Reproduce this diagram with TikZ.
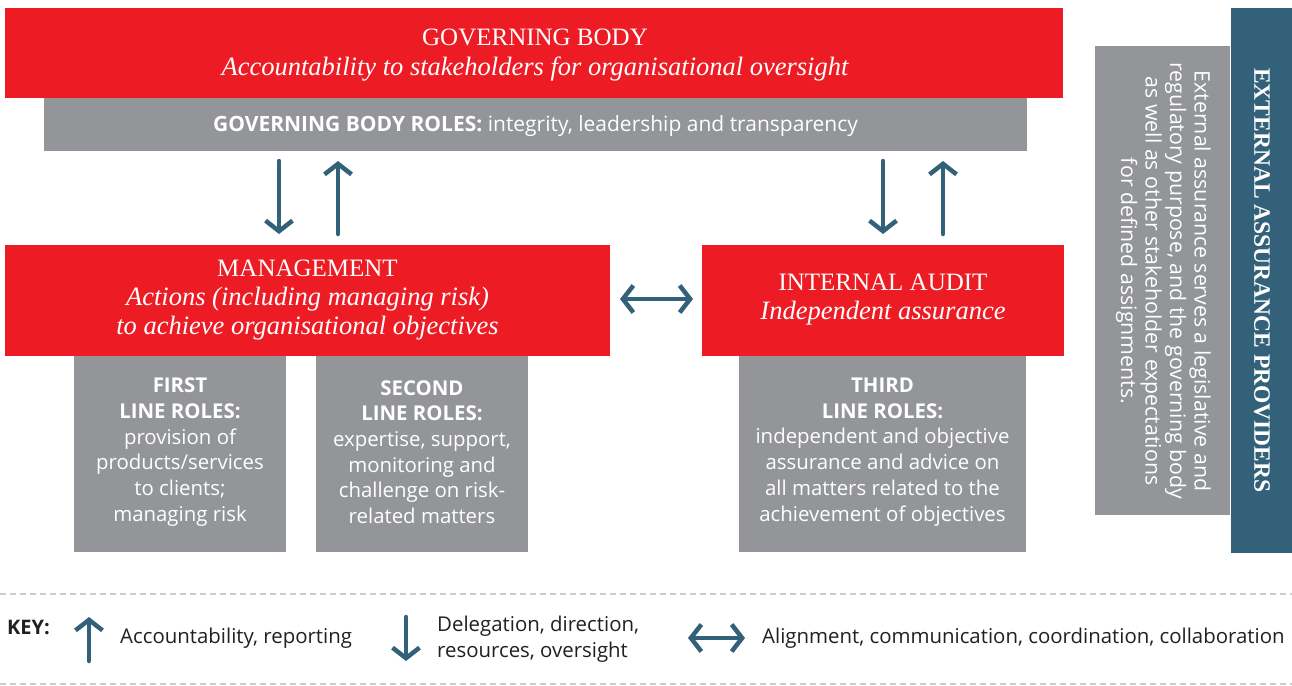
\documentclass[tikz,border=0pt]{standalone}
\usepackage{fontspec}
\setmainfont{Liberation Serif}
\setsansfont{Open Sans}
\usetikzlibrary{arrows.meta}
\definecolor{ired}{HTML}{ED1C24}
\definecolor{igray}{HTML}{939598}
\definecolor{iblue}{HTML}{336179}
\definecolor{ikey}{HTML}{231F20}
\definecolor{idash}{HTML}{CCCCCC}
\begin{document}
\begin{tikzpicture}[x=1pt,y=-1pt,
  box/.style={rectangle, inner sep=0pt, anchor=north west, text=white, align=center},
  redbox/.style={box, fill=ired},
  graybox/.style={box, fill=igray},
  bluebox/.style={box, fill=iblue},
  titletext/.style={text=white, align=center, inner sep=0pt, font=\fontsize{26.5}{29}\selectfont},
  rolestext/.style={font=\sffamily\fontsize{20.4}{25.7}\selectfont, text=white, align=center, inner sep=0pt},
  keytext/.style={font=\sffamily\fontsize{20.4}{26}\selectfont, text=ikey, align=left, anchor=west, inner sep=0pt},
  arr/.style={draw=iblue, line width=4.5pt, line cap=round, -{Straight Barb[length=10.5pt,width=27pt]}},
  darr/.style={draw=iblue, line width=4.5pt, line cap=round, {Straight Barb[length=10.5pt,width=27pt]}-{Straight Barb[length=10.5pt,width=27pt]}},
  keyline/.style={draw=idash, line width=1.5pt, dash pattern=on 6pt off 4pt}
]
\useasboundingbox (0,0) rectangle (1292,685);

% Governing body
\node[redbox, minimum width=1058pt, minimum height=90pt] (gb) at (5,8) {};
\node[titletext, font=\fontsize{26.5}{30}\selectfont] (gbt) at (535,55)
  {{\fontsize{25}{30}\selectfont GOVERNING BODY}\\
   \itshape Accountability to stakeholders for organisational oversight};
\node[graybox, minimum width=983pt, minimum height=53pt] (gbr) at (44,98) {};
\node[rolestext, font=\sffamily\fontsize{21}{25.7}\selectfont] (gbrt) at (535.5,126)
  {\textbf{GOVERNING BODY ROLES:} integrity, leadership and transparency};

% Management
\node[redbox, minimum width=605pt, minimum height=111pt] (mg) at (5,245) {};
\node[titletext] (mgt) at (307.5,300)
  {{\fontsize{25}{29}\selectfont MANAGEMENT}\\
   \itshape Actions (including managing risk)\\
   \itshape to achieve organisational objectives};

% Internal audit
\node[redbox, minimum width=362pt, minimum height=111pt] (ia) at (702,245) {};
\node[titletext] (iat) at (883,299.5)
  {{\fontsize{25}{29}\selectfont INTERNAL AUDIT}\\
   \itshape Independent assurance};

% Line role boxes
\node[graybox, minimum width=212pt, minimum height=196pt] (l1) at (74,356) {};
\node[rolestext] (l1t) at (180,452)
  {\textbf{FIRST}\\\textbf{LINE ROLES:}\\provision of\\products/services\\to clients;\\managing risk};
\node[graybox, minimum width=212pt, minimum height=196pt] (l2) at (316,356) {};
\node[rolestext] (l2t) at (422,452)
  {\textbf{SECOND}\\\textbf{LINE ROLES:}\\expertise, support,\\monitoring and\\challenge on risk-\\related matters};
\node[graybox, minimum width=287pt, minimum height=196pt] (l3) at (739,356) {};
\node[rolestext] (l3t) at (882.5,452)
  {\textbf{THIRD}\\\textbf{LINE ROLES:}\\independent and objective\\assurance and advice on\\all matters related to the\\achievement of objectives};

% External assurance
\node[graybox, minimum width=135pt, minimum height=469pt] (ex) at (1095,46) {};
\node[rotate=-90, text=white, align=center, inner sep=0pt, font=\sffamily\fontsize{21.3}{24.5}\selectfont] (ext) at (1163.5,281)
  {External assurance serves a legislative and\\regulatory purpose, and the governing body\\as well as other stakeholder expectations\\for defined assignments.};
\node[bluebox, minimum width=62pt, minimum height=545pt] (eb) at (1231,8) {};
\node[rotate=-90, text=white, inner sep=0pt, font=\bfseries\fontsize{23.5}{26}\selectfont] (ebt) at (1262,280.5)
  {EXTERNAL ASSURANCE PROVIDERS};

% Connectors
\coordinate (d1a) at (279,161); \coordinate (d1b) at (279,234);
\coordinate (u1a) at (338,234); \coordinate (u1b) at (338,161);
\coordinate (d2a) at (883,161); \coordinate (d2b) at (883,234);
\coordinate (u2a) at (943,234); \coordinate (u2b) at (943,161);
\coordinate (h1) at (620,299); \coordinate (h2) at (693,299);
\draw[arr] (d1a) -- (d1b);
\draw[arr] (u1a) -- (u1b);
\draw[arr] (d2a) -- (d2b);
\draw[arr] (u2a) -- (u2b);
\draw[darr] (h1) -- (h2);

% Key
\draw[keyline] (0,594) -- (1292,594);
\draw[keyline] (0,684) -- (1292,684);
\node[keytext, font=\sffamily\bfseries\fontsize{20}{26}\selectfont] (key) at (7,627) {KEY:};
\coordinate (k1a) at (89,661); \coordinate (k1b) at (89,617);
\draw[arr] (k1a) -- (k1b);
\node[keytext] (k1t) at (120,638) {Accountability, reporting};
\coordinate (k2a) at (406,617); \coordinate (k2b) at (406,661);
\draw[arr] (k2a) -- (k2b);
\node[keytext] (k2t) at (437,639) {Delegation, direction,\\resources, oversight};
\coordinate (k3a) at (688,638); \coordinate (k3b) at (745,638);
\draw[darr] (k3a) -- (k3b);
\node[keytext] (k3t) at (762,638) {Alignment, communication, coordination, collaboration};
\end{tikzpicture}
\end{document}
